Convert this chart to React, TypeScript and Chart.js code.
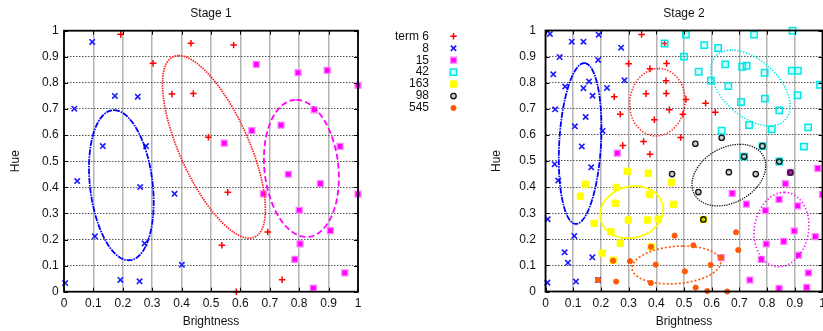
import React, { useEffect, useRef } from 'react';
import { Chart, registerables } from 'chart.js';
import { drawPoint } from 'chart.js/helpers';

Chart.register(...registerables);

type P = [number, number];

// ---------- DATA ----------
const tickValues = [0, 0.1, 0.2, 0.3, 0.4, 0.5, 0.6, 0.7, 0.8, 0.9, 1];
const seriesNames = ['term 6', '8', '15', '42', '163', '98', '545'];

const s1Term6: P[] = [[0.193,0.986],[0.432,0.952],[0.577,0.945],[0.303,0.875],[0.367,0.757],[0.44,0.759],[0.491,0.592],[0.557,0.381],[0.537,0.178],[0.693,0.229],[0.742,0.046],[0.586,0.0]];
const s1Eight: P[] = [[0.096,0.957],[0.035,0.701],[0.173,0.75],[0.251,0.747],[0.132,0.558],[0.279,0.558],[0.045,0.424],[0.259,0.401],[0.376,0.375],[0.105,0.212],[0.274,0.185],[0.401,0.103],[0.192,0.045],[0.257,0.04],[0.004,0.033]];
const s1Fifteen: P[] = [[0.654,0.871],[0.796,0.839],[0.895,0.848],[1.0,0.791],[0.851,0.697],[0.639,0.617],[0.738,0.638],[0.545,0.569],[0.939,0.557],[0.763,0.45],[0.678,0.375],[0.872,0.414],[1.0,0.374],[0.8,0.312],[0.906,0.234],[0.803,0.183],[0.785,0.124],[0.955,0.072],[0.848,0.014]];

const s2Term6: P[] = [[0.347,0.985],[0.43,0.95],[0.30,0.873],[0.437,0.874],[0.377,0.853],[0.435,0.807],[0.248,0.746],[0.363,0.758],[0.436,0.759],[0.27,0.679],[0.447,0.696],[0.496,0.679],[0.507,0.736],[0.578,0.721],[0.613,0.687],[0.393,0.658],[0.488,0.59],[0.354,0.575],[0.279,0.559],[0.377,0.526]];
const s2Eight: P[] = [[0.016,0.987],[0.095,0.957],[0.137,0.957],[0.192,0.984],[0.273,0.934],[0.051,0.898],[0.19,0.887],[0.028,0.832],[0.157,0.805],[0.285,0.809],[0.071,0.785],[0.137,0.779],[0.222,0.78],[0.17,0.75],[0.035,0.698],[0.145,0.669],[0.106,0.633],[0.206,0.615],[0.131,0.556],[0.259,0.53],[0.033,0.488],[0.165,0.476],[0.046,0.425],[0.008,0.277],[0.104,0.213],[0.069,0.15],[0.169,0.131],[0.081,0.11],[0.007,0.034],[0.11,0.038],[0.19,0.044]];
const s2Fifteen: P[] = [[0.259,0.53],[0.884,0.456],[0.983,0.472],[0.866,0.413],[0.674,0.376],[1.0,0.372],[0.725,0.335],[0.843,0.353],[0.91,0.328],[0.794,0.31],[0.898,0.232],[0.974,0.21],[0.797,0.182],[0.86,0.192],[0.634,0.13],[0.779,0.123],[0.913,0.139],[0.738,0.044],[0.949,0.071],[0.843,0.012],[0.943,0.016]];
const s2FortyTwo: P[] = [[0.43,0.95],[0.507,0.984],[0.753,0.984],[0.892,0.999],[0.573,0.944],[0.623,0.933],[0.5,0.9],[0.649,0.87],[0.71,0.861],[0.726,0.865],[0.553,0.842],[0.791,0.838],[0.889,0.846],[0.911,0.846],[0.597,0.808],[0.991,0.792],[0.66,0.787],[0.706,0.726],[0.792,0.739],[0.91,0.752],[0.844,0.694],[0.735,0.638],[0.817,0.621],[0.636,0.616],[0.948,0.629],[0.933,0.555],[0.783,0.557],[0.717,0.517],[0.844,0.498]];
const s2OneSixtyThree: P[] = [[0.295,0.46],[0.371,0.453],[0.454,0.418],[0.144,0.411],[0.256,0.399],[0.126,0.365],[0.375,0.372],[0.252,0.338],[0.461,0.334],[0.299,0.274],[0.368,0.274],[0.407,0.277],[0.176,0.261],[0.236,0.229],[0.27,0.185],[0.205,0.147],[0.244,0.12],[0.57,0.276],[0.381,0.171]];
const s2NinetyEight: P[] = [[0.636,0.589],[0.541,0.566],[0.783,0.557],[0.717,0.517],[0.844,0.498],[0.884,0.456],[0.457,0.45],[0.662,0.457],[0.759,0.45],[0.552,0.381],[0.57,0.276]];
const s2FiveFortyFive: P[] = [[0.466,0.214],[0.381,0.171],[0.244,0.118],[0.305,0.116],[0.398,0.103],[0.19,0.044],[0.255,0.038],[0.38,0.033],[0.688,0.227],[0.534,0.177],[0.696,0.159],[0.634,0.13],[0.596,0.102],[0.503,0.077],[0.542,0.015],[0.584,0.002],[0.656,0.0]];

// ellipses: centre, half-extent in x / y, x offset of topmost point (all in data units)
type Ell = { cx: number; cy: number; hx: number; hy: number; topDx: number };
const s1Ellipses: Ell[] = [
  { cx: 0.195, cy: 0.408, hx: 0.11, hy: 0.2875, topDx: -0.025 },
  { cx: 0.51, cy: 0.555, hx: 0.175, hy: 0.35, topDx: -0.12 },
  { cx: 0.8075, cy: 0.4725, hx: 0.1275, hy: 0.2625, topDx: -0.0175 },
];
const s2Ellipses: Ell[] = [
  { cx: 0.125, cy: 0.567, hx: 0.077, hy: 0.308, topDx: 0.015 },
  { cx: 0.404, cy: 0.725, hx: 0.1, hy: 0.129, topDx: 0.005 },
  { cx: 0.74, cy: 0.78, hx: 0.143, hy: 0.145, topDx: -0.068 },
  { cx: 0.662, cy: 0.446, hx: 0.133, hy: 0.118, topDx: 0.04 },
  { cx: 0.311, cy: 0.304, hx: 0.114, hy: 0.1, topDx: 0.012 },
  { cx: 0.4725, cy: 0.1015, hx: 0.16, hy: 0.0725, topDx: 0.025 },
  { cx: 0.852, cy: 0.2375, hx: 0.099, hy: 0.1425, topDx: 0.01 },
];

// ---------- STYLES ----------
const FONT = "'Liberation Sans', Arial, sans-serif";
type PS = { pointStyle: any; radius: number; bg: string; border: string; bw: number };
const seriesStyles: PS[] = [
  { pointStyle: 'cross', radius: 3.3, bg: '#ff0000', border: '#ff0000', bw: 1.5 },
  { pointStyle: 'crossRot', radius: 3.8, bg: '#0000ff', border: '#1a1aff', bw: 1.6 },
  { pointStyle: 'rect', radius: 4.2, bg: '#ff00ff', border: '#ff80ff', bw: 1.3 },
  { pointStyle: 'rect', radius: 4.5, bg: 'rgba(0,255,255,0.18)', border: '#00e8e8', bw: 1.5 },
  { pointStyle: 'rect', radius: 4.5, bg: '#ffff00', border: '#ffff00', bw: 1 },
  { pointStyle: 'circle', radius: 2.7, bg: 'rgba(0,0,0,0.2)', border: '#111111', bw: 1.3 },
  { pointStyle: 'circle', radius: 2.6, bg: '#ff5a0a', border: '#ff5a0a', bw: 1 },
];
const s1EllStyles = [
  { color: '#0000ff', dash: [6, 1, 1.5, 1], width: 1.8 },
  { color: '#ff2020', dash: [1.5, 1], width: 1.7 },
  { color: '#ff00ff', dash: [6, 3], width: 1.8 },
];
const s2EllStyles = [
  { color: '#0000ff', dash: [6, 1, 1.5, 1], width: 1.8 },
  { color: '#ff2020', dash: [1.3, 1.6], width: 1.6 },
  { color: '#00e8e8', dash: [1.3, 1.6], width: 1.6 },
  { color: '#111111', dash: [1.3, 1.1], width: 1.3 },
  { color: '#ffff00', dash: [], width: 1.8 },
  { color: '#ff5a0a', dash: [2, 2], width: 1.7 },
  { color: '#ff00ff', dash: [1.3, 2.2], width: 1.6 },
];

function toXY(arr: P[]) {
  return arr.map(([x, y]) => ({ x, y }));
}

function makeDataset(arr: P[], idx: number) {
  const s = seriesStyles[idx];
  return {
    label: seriesNames[idx],
    data: toXY(arr),
    pointStyle: s.pointStyle,
    pointRadius: s.radius,
    pointBackgroundColor: s.bg,
    pointBorderColor: s.border,
    pointBorderWidth: s.bw,
    showLine: false,
    clip: false as any,
    order: 10 - idx,
  };
}

function makeDecor(title: string, ellipses: Ell[], styles: any[]) {
  return {
    id: 'decor',
    afterDatasetsDraw(chart: any) {
      const { ctx, chartArea: a, scales } = chart;
      const xs = scales.x, ys = scales.y;
      // ellipses
      ctx.save();
      ctx.beginPath();
      ctx.rect(a.left, a.top, a.right - a.left, a.bottom - a.top);
      ctx.clip();
      ellipses.forEach((e, i) => {
        const st = styles[i];
        const ux = e.topDx, uy = e.hy;
        const vx = Math.sqrt(Math.max(e.hx * e.hx - ux * ux, 0));
        ctx.beginPath();
        const N = 240;
        for (let k = 0; k <= N; k++) {
          const t = (k / N) * Math.PI * 2;
          const dx = e.cx + ux * Math.cos(t) + vx * Math.sin(t);
          const dy = e.cy + uy * Math.cos(t);
          const px = xs.getPixelForValue(dx), py = ys.getPixelForValue(dy);
          if (k === 0) ctx.moveTo(px, py); else ctx.lineTo(px, py);
        }
        ctx.strokeStyle = st.color;
        ctx.lineWidth = st.width;
        ctx.setLineDash(st.dash);
        ctx.stroke();
      });
      ctx.restore();
      // border and inward ticks
      ctx.save();
      ctx.strokeStyle = '#000';
      ctx.lineWidth = 1;
      ctx.setLineDash([]);
      ctx.beginPath();
      tickValues.forEach((v) => {
        const px = Math.round(xs.getPixelForValue(v)) + 0.5;
        ctx.moveTo(px, a.bottom); ctx.lineTo(px, a.bottom - 4);
        ctx.moveTo(px, a.top); ctx.lineTo(px, a.top + 4);
        const py = Math.round(ys.getPixelForValue(v)) + 0.5;
        ctx.moveTo(a.left, py); ctx.lineTo(a.left + 4, py);
        ctx.moveTo(a.right, py); ctx.lineTo(a.right - 4, py);
      });
      ctx.stroke();
      ctx.lineWidth = 1.8;
      ctx.strokeRect(a.left, a.top, a.right - a.left, a.bottom - a.top);
      // title
      ctx.fillStyle = '#111';
      ctx.font = `12px ${FONT}`;
      ctx.textAlign = 'center';
      ctx.textBaseline = 'middle';
      ctx.fillText(title, (a.left + a.right) / 2, 13.5);
      ctx.restore();
    },
  };
}

const legendPlugin = {
  id: 'seriesLegend',
  afterDraw(chart: any) {
    const { ctx } = chart;
    ctx.save();
    ctx.font = `12px ${FONT}`;
    ctx.textAlign = 'right';
    ctx.textBaseline = 'middle';
    ctx.fillStyle = '#111';
    seriesNames.forEach((name, i) => {
      const y = 36.3 + i * 11.95;
      ctx.fillText(name, 429, y);
      const s = seriesStyles[i];
      ctx.fillStyle = s.bg;
      ctx.strokeStyle = s.border;
      ctx.lineWidth = s.bw;
      drawPoint(ctx, { pointStyle: s.pointStyle, radius: s.radius, rotation: 0, borderWidth: s.bw } as any, 453.5, y);
      ctx.fillStyle = '#111';
    });
    ctx.restore();
  },
};

function scaleOpts(axis: 'x' | 'y', sizeFix: number, tickPad: number, titlePad: any) {
  const isX = axis === 'x';
  return {
    type: 'linear' as const,
    min: 0,
    max: 1,
    ticks: {
      stepSize: 0.1,
      autoSkip: false,
      maxRotation: 0,
      padding: tickPad,
      color: '#111',
      font: { family: FONT, size: 12 },
      callback: (v: any) => String(Math.round(Number(v) * 10) / 10),
    },
    grid: isX
      ? { color: '#b4b4b4', lineWidth: 1.5, drawTicks: false }
      : { color: '#555555', lineWidth: 1.1, drawTicks: false },
    border: isX ? { display: false } : { display: false, dash: [1.5, 1.5] },
    title: {
      display: true,
      text: isX ? 'Brightness' : 'Hue',
      color: '#111',
      font: { family: FONT, size: 12 },
      padding: titlePad,
    },
    afterFit: (s: any) => {
      if (isX) s.height = sizeFix; else s.width = sizeFix;
    },
  };
}

function ScatterPanel(props: {
  width: number; left: number; datasets: any[]; plugins: any[];
  pad: any; xH: number; yW: number; yTickPad: number; yTitlePad: number;
}) {
  const ref = useRef<HTMLCanvasElement | null>(null);
  useEffect(() => {
    if (!ref.current) return;
    const chart = new Chart(ref.current, {
      type: 'scatter',
      data: { datasets: props.datasets },
      options: {
        responsive: false,
        animation: false,
        devicePixelRatio: 1,
        layout: { padding: props.pad },
        plugins: { legend: { display: false }, tooltip: { enabled: false }, title: { display: false } },
        scales: {
          x: scaleOpts('x', props.xH, 5, { top: 0, bottom: 2 }),
          y: scaleOpts('y', props.yW, props.yTickPad, { top: props.yTitlePad, bottom: 0 }),
        } as any,
      },
      plugins: props.plugins,
    });
    return () => chart.destroy();
  }, []);
  return (
    <canvas
      ref={ref}
      width={props.width}
      height={331}
      style={{ position: 'absolute', left: props.left, top: 0, width: props.width, height: 331 }}
    />
  );
}

export default function App() {
  const ds1 = [makeDataset(s1Term6, 0), makeDataset(s1Eight, 1), makeDataset(s1Fifteen, 2)];
  const ds2 = [
    makeDataset(s2Term6, 0), makeDataset(s2Eight, 1), makeDataset(s2Fifteen, 2),
    makeDataset(s2FortyTwo, 3), makeDataset(s2OneSixtyThree, 4),
    makeDataset(s2NinetyEight, 5), makeDataset(s2FiveFortyFive, 6),
  ];
  return (
    <div style={{ position: 'absolute', left: 0, top: 0, width: 823, height: 331, overflow: 'hidden', background: '#fff' }}>
      <ScatterPanel
        width={470} left={0} datasets={ds1}
        plugins={[makeDecor('Stage 1', s1Ellipses, s1EllStyles), legendPlugin]}
        pad={{ left: 0, top: 30.7, right: 112, bottom: 0 }}
        xH={39.3} yW={64} yTickPad={5.3} yTitlePad={8}
      />
      <ScatterPanel
        width={365} left={470} datasets={ds2}
        plugins={[makeDecor('Stage 2', s2Ellipses, s2EllStyles)]}
        pad={{ left: 0, top: 30.5, right: 12.5, bottom: 0 }}
        xH={39.5} yW={75.5} yTickPad={9.5} yTitlePad={19.5}
      />
    </div>
  );
}
